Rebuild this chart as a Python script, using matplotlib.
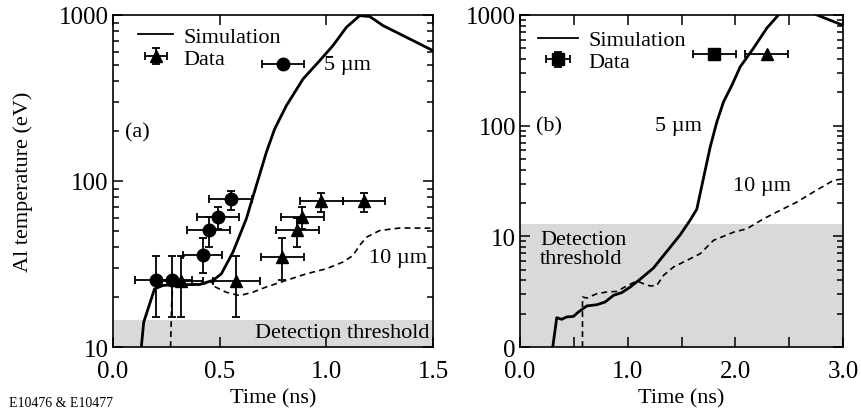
import matplotlib
matplotlib.use("Agg")
import matplotlib.pyplot as plt
from matplotlib.ticker import LogLocator, FixedLocator, FixedFormatter, MultipleLocator, NullFormatter
from matplotlib.lines import Line2D
from matplotlib.legend_handler import HandlerErrorbar

plt.rcParams["font.family"] = ["Liberation Serif", "DejaVu Serif"]

# (a) 시뮬레이션 5 um
sim5_a_t = [0.133, 0.144, 0.195, 0.234, 0.281, 0.406, 0.469, 0.508, 0.5625, 0.625, 0.672, 0.719,
            0.758, 0.8125, 0.891, 0.969, 1.031, 1.094, 1.156, 1.203, 1.266, 1.344, 1.422, 1.5]
sim5_a_T = [10, 14.1, 22.4, 23.5, 23.7, 23.8, 25.2, 27.6, 37.3, 59.2, 93.9, 149,
            206, 284, 412, 531, 654, 843, 990, 980, 863, 769, 685, 610]
# (a) 시뮬레이션 10 um (점선)
sim10_a_t = [0.27, 0.275, 0.28, 0.30, 0.35, 0.40, 0.45, 0.473, 0.465, 0.48, 0.53, 0.594, 0.656, 0.719,
             0.8125, 0.906, 1.0, 1.078, 1.125, 1.156, 1.1875, 1.25, 1.344, 1.5]
sim10_a_T = [10, 18, 23.5, 24.0, 24.0, 24.0, 24.2, 24.8, 24.0, 23.0, 21.4, 20.4, 21.4, 23.0,
             25.2, 27.6, 29.6, 32.5, 35.6, 40.9, 45.8, 50.3, 52.1, 52]

# (a) 데이터 5 um (원)
dat5_t = [0.20, 0.277, 0.42, 0.448, 0.492, 0.552]
dat5_T = [25.4, 25.3, 35.6, 50.8, 60.6, 77.4]
dat5_terr = [0.095, 0.095, 0.09, 0.1, 0.1, 0.1]
dat5_lo = [15.2, 15.2, 28, 40, 51.5, 66.5]
dat5_hi = [35.1, 35.1, 45.5, 60.6, 70, 86.9]

# (a) 데이터 10 um (삼각형)
dat10_t = [0.32, 0.578, 0.794, 0.864, 0.8875, 0.977, 1.177]
dat10_T = [25, 25, 34.8, 50.4, 60.6, 76.3, 76.3]
dat10_terr = [0.1, 0.11, 0.1, 0.1, 0.1, 0.1, 0.1]
dat10_lo = [15.2, 15.2, 25.2, 40, 51.5, 65, 65]
dat10_hi = [35.1, 35.1, 45.5, 60, 70, 84.6, 84.6]

# (b) 시뮬레이션 5 um
sim5_b_t = [0.304, 0.341, 0.387, 0.434, 0.496, 0.542, 0.62, 0.713, 0.79, 0.868, 0.945, 1.023, 1.116,
            1.24, 1.363, 1.487, 1.58, 1.642, 1.704, 1.766, 1.828, 1.89, 1.968, 2.045, 2.169, 2.293,
            2.4, 2.5, 2.65, 2.758, 3.0]
sim5_b_T = [1, 1.84, 1.78, 1.87, 1.89, 2.07, 2.35, 2.41, 2.55, 2.93, 3.1, 3.48, 4.1,
            5.18, 7.3, 10.3, 14.0, 17.6, 33.6, 64, 108, 164, 232, 340, 502, 763,
            1000, 1150, 1150, 1000, 807]
# (b) 시뮬레이션 10 um (점선)
sim10_b_t = [0.58, 0.58, 0.62, 0.713, 0.806, 0.899, 0.99, 1.085, 1.147, 1.209, 1.27, 1.333, 1.425,
             1.549, 1.673, 1.797, 1.983, 2.107, 2.262, 2.417, 2.572, 2.727, 2.913, 3.0]
sim10_b_T = [1, 2.83, 2.77, 3.03, 3.14, 3.18, 3.56, 3.95, 3.73, 3.56, 3.6, 4.44, 5.28,
             6.06, 6.96, 9.2, 10.9, 11.7, 14.4, 17.2, 20.4, 25.2, 32.1, 33]

# (b) 데이터
datb_sq_t, datb_sq_T, datb_sq_terr = [1.803], [447], [0.2]
datb_tr_t, datb_tr_T, datb_tr_terr = [2.293], [447], [0.2]

thresh_a = 14.5
thresh_b = 13

fs = 16      # 글자 크기
tfs = 18     # 눈금 글자 크기

fig = plt.figure(figsize=(8.61, 4.10), dpi=100)
ax1 = fig.add_axes([0.1312, 0.1512, 0.3717, 0.8098])
ax2 = fig.add_axes([0.604, 0.1512, 0.3751, 0.8098])

eb_kw = dict(color="black", ecolor="black", elinewidth=1.3, capsize=3, capthick=1.3,
             linestyle="none", markersize=9)

# ----- (a) -----
ax1.axhspan(10, thresh_a, color="#d9d9d9", zorder=0, lw=0)
ax1.plot(sim5_a_t, sim5_a_T, color="black", lw=2)
ax1.plot(sim10_a_t, sim10_a_T, color="black", lw=1.2, ls=(0, (3.5, 2.5)))
h_circ = ax1.errorbar(dat5_t, dat5_T, xerr=dat5_terr,
                      yerr=[[a - b for a, b in zip(dat5_T, dat5_lo)], [b - a for a, b in zip(dat5_T, dat5_hi)]],
                      marker="o", **eb_kw)
h_tri = ax1.errorbar(dat10_t, dat10_T, xerr=dat10_terr,
                     yerr=[[a - b for a, b in zip(dat10_T, dat10_lo)], [b - a for a, b in zip(dat10_T, dat10_hi)]],
                     marker="^", **eb_kw)
ax1.set_yscale("log")
ax1.set_xlim(0, 1.5)
ax1.set_ylim(10, 1000)
ax1.xaxis.set_major_locator(MultipleLocator(0.5))
ax1.xaxis.set_major_formatter(plt.FuncFormatter(lambda v, p: f"{v:.1f}"))
ax1.yaxis.set_major_locator(FixedLocator([10, 100, 1000]))
ax1.yaxis.set_major_formatter(FixedFormatter(["10", "100", "1000"]))
ax1.set_xlabel("Time (ns)", fontsize=fs, labelpad=5)
ax1.set_ylabel("Al temperature (eV)", fontsize=fs)
ax1.yaxis.set_label_coords(-0.25, 0.5)

ax1.text(0.056, 197, "(a)", fontsize=fs, va="center")
ax1.text(0.99, 500, "5 µm", fontsize=fs, va="center")
ax1.text(1.2, 34.8, "10 µm", fontsize=fs, va="center")
ax1.text(1.485, 12.3, "Detection threshold", fontsize=fs, ha="right", va="center")

h_sim = Line2D([], [], color="black", lw=1.3)
leg1 = ax1.legend([h_sim, h_tri], ["Simulation", "Data"], loc="upper left", frameon=False,
                  fontsize=fs, handlelength=1.6, borderaxespad=0, borderpad=0, labelspacing=0.05,
                  handletextpad=0.45, bbox_to_anchor=(0.078, 0.965),
                  handler_map={h_tri: HandlerErrorbar(xerr_size=0.5, yerr_size=0.35)})
ax1.add_artist(leg1)
ax1.legend([h_circ], [""], loc="center", frameon=False, fontsize=fs, handlelength=3.2,
           bbox_to_anchor=(0.531, 0.846), borderaxespad=0, borderpad=0, handletextpad=0,
           handler_map={h_circ: HandlerErrorbar(xerr_size=0.95, yerr_size=0.0)})

# ----- (b) -----
ax2.axhspan(1, thresh_b, color="#d9d9d9", zorder=0, lw=0)
ax2.plot(sim5_b_t, sim5_b_T, color="black", lw=2)
ax2.plot(sim10_b_t, sim10_b_T, color="black", lw=1.2, ls=(0, (3.5, 2.5)))
h_sq = ax2.errorbar(datb_sq_t, datb_sq_T, xerr=datb_sq_terr, yerr=[0], marker="s", **eb_kw)
ax2.errorbar(datb_tr_t, datb_tr_T, xerr=datb_tr_terr, marker="^", **eb_kw)
ax2.set_yscale("log")
ax2.set_xlim(0, 3.0)
ax2.set_ylim(1, 1000)
ax2.xaxis.set_major_locator(MultipleLocator(1.0))
ax2.xaxis.set_minor_locator(MultipleLocator(0.5))
ax2.xaxis.set_major_formatter(plt.FuncFormatter(lambda v, p: f"{v:.1f}"))
ax2.yaxis.set_major_locator(FixedLocator([1, 10, 100, 1000]))
ax2.yaxis.set_major_formatter(FixedFormatter(["0", "10", "100", "1000"]))
ax2.set_xlabel("Time (ns)", fontsize=fs, labelpad=5)

ax2.text(0.15, 100, "(b)", fontsize=fs, va="center")
ax2.text(1.255, 100, "5 µm", fontsize=fs, va="center")
ax2.text(1.98, 28.5, "10 µm", fontsize=fs, va="center")
ax2.text(0.186, 7.7, "Detection\nthreshold", fontsize=fs, va="center", linespacing=1.0)

ax2.legend([h_sim, h_sq], ["Simulation", "Data"], loc="upper left", frameon=False,
           fontsize=fs, handlelength=1.8, borderaxespad=0, borderpad=0, labelspacing=0.05,
           handletextpad=0.45, bbox_to_anchor=(0.056, 0.955),
           handler_map={h_sq: HandlerErrorbar(xerr_size=0.55, yerr_size=0.35)})

for ax in (ax1, ax2):
    ax.yaxis.set_minor_locator(LogLocator(base=10, subs=range(2, 10), numticks=20))
    ax.yaxis.set_minor_formatter(NullFormatter())
    ax.tick_params(which="both", direction="in", top=True, right=True, labelsize=tfs, width=1.1)
    ax.tick_params(which="major", length=7)
    ax.tick_params(axis="y", which="major", pad=3)
    ax.tick_params(axis="x", which="major", pad=9)
    ax.tick_params(axis="y", which="minor", length=4)
    ax.tick_params(axis="x", which="minor", length=7)
    for s in ax.spines.values():
        s.set_linewidth(1.2)

fig.text(0.01, 0.008, "E10476 & E10477", fontsize=10)

fig.savefig("out.png", dpi=100)
